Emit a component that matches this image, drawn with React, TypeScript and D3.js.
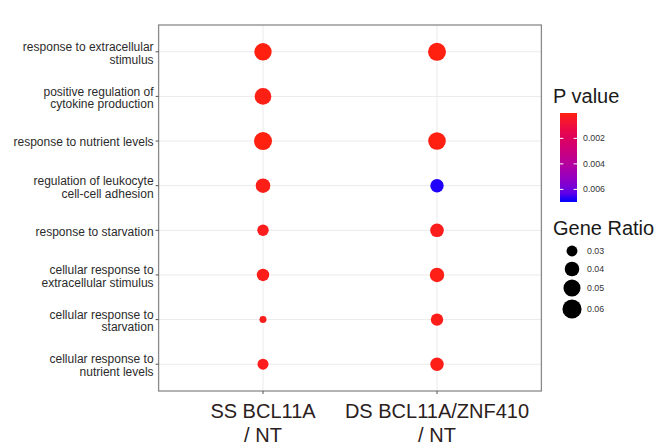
import React from "react";
import * as d3 from "d3";

// GO terms, top to bottom
const terms = [
  "response to extracellular\nstimulus",
  "positive regulation of\ncytokine production",
  "response to nutrient levels",
  "regulation of leukocyte\ncell-cell adhesion",
  "response to starvation",
  "cellular response to\nextracellular stimulus",
  "cellular response to\nstarvation",
  "cellular response to\nnutrient levels",
];
const groups = ["SS BCL11A\n/ NT", "DS BCL11A/ZNF410\n/ NT"];

// gene ratio per group (null = not enriched)
const ratioSS = [0.0512, 0.0482, 0.0544, 0.0401, 0.031, 0.0334, 0.0252, 0.0301];
const ratioDS = [0.0544, null, 0.0525, 0.0362, 0.0368, 0.0394, 0.0334, 0.0362];
const pSS = [0.00001, 0.00008, 0.00001, 0.00012, 0.0002, 0.00015, 0.0002, 0.0002];
const pDS = [0.00001, null, 0.00002, 0.0069, 0.00018, 0.0001, 0.00015, 0.00012];

const pTicks = [0.002, 0.004, 0.006];
const sizeTicks = [0.03, 0.04, 0.05, 0.06];

const W = 656, H = 446;
const panel = { left: 158.6, right: 541.4, top: 25, bottom: 391 };
const font = "'Liberation Sans', Arial, sans-serif";

export default function App() {
  const x = d3.scalePoint<string>().domain(groups).range([panel.left, panel.right]).padding(0.6);
  const y = d3.scalePoint<string>().domain(terms).range([panel.top, panel.bottom]).padding(0.6);
  const pDomain: [number, number] = [0.00001, 0.00699];
  const color = d3.scaleLinear<string>().domain(pDomain).range(["#ff2010", "#0000ff"]).interpolate(d3.interpolateLab);
  const size = (v: number) => 3 + 7 * Math.sqrt(Math.max(0, (v - 0.025) / 0.04));

  const points: { g: string; t: string; r: number; p: number }[] = [];
  terms.forEach((t, i) => {
    if (ratioSS[i] != null) points.push({ g: groups[0], t, r: ratioSS[i] as number, p: pSS[i] as number });
    if (ratioDS[i] != null) points.push({ g: groups[1], t, r: ratioDS[i] as number, p: pDS[i] as number });
  });

  // colour bar
  const bar = { x: 560, y0: 113, y1: 202, w: 17 };
  const barY = d3.scaleLinear().domain(pDomain).range([bar.y0, bar.y1]);
  const stops = d3.range(0, 1.0001, 0.1);

  return (
    <svg width={W} height={H} style={{ position: "absolute", left: 0, top: 0, background: "#fff" }} fontFamily={font}>
      <defs>
        <linearGradient id="pgrad" x1="0" y1="0" x2="0" y2="1">
          {stops.map((s) => (
            <stop key={s} offset={s} stopColor={color(pDomain[0] + s * (pDomain[1] - pDomain[0]))} />
          ))}
        </linearGradient>
      </defs>
      <rect x={panel.left} y={panel.top} width={panel.right - panel.left} height={panel.bottom - panel.top} fill="#fff" />
      {/* grid */}
      {terms.map((t) => (
        <line key={t} x1={panel.left} x2={panel.right} y1={y(t)} y2={y(t)} stroke="#ebebeb" strokeWidth={1} />
      ))}
      {groups.map((g) => (
        <line key={g} x1={x(g)} x2={x(g)} y1={panel.top} y2={panel.bottom} stroke="#ebebeb" strokeWidth={1} />
      ))}
      {/* points */}
      {points.map((d, i) => (
        <circle key={i} cx={x(d.g)} cy={y(d.t)} r={size(d.r)} fill={color(d.p)} />
      ))}
      <rect x={panel.left} y={panel.top} width={panel.right - panel.left} height={panel.bottom - panel.top}
        fill="none" stroke="#8a8a8a" strokeWidth={1.3} />
      {/* y axis */}
      {terms.map((t) => {
        const lines = t.split("\n");
        const yy = (y(t) as number) + 1.2;
        return (
          <g key={t}>
            <line x1={panel.left - 3} x2={panel.left} y1={y(t)} y2={y(t)} stroke="#555" />
            <text x={panel.left - 5} y={yy - (lines.length - 1) * 6.3} textAnchor="end" fontSize={12} fill="#2b2b2b">
              {lines.map((l, j) => (
                <tspan key={j} x={panel.left - 5} dy={j === 0 ? "0.35em" : 12.8}>{l}</tspan>
              ))}
            </text>
          </g>
        );
      })}
      {/* x axis */}
      {groups.map((g) => {
        const xx = x(g) as number;
        return (
          <g key={g}>
            <line x1={xx} x2={xx} y1={panel.bottom} y2={panel.bottom + 3} stroke="#555" />
            <text textAnchor="middle" fontSize={20} fill="#2b2020">
              {g.split("\n").map((l, j) => (
                <tspan key={j} x={xx} y={418 + j * 24}>{l}</tspan>
              ))}
            </text>
          </g>
        );
      })}
      {/* P value legend */}
      <text x={553} y={103} fontSize={20} fill="#1a1a1a">P value</text>
      <rect x={bar.x} y={bar.y0} width={bar.w} height={bar.y1 - bar.y0} fill="url(#pgrad)" />
      {pTicks.map((t) => (
        <g key={t}>
          <line x1={bar.x} x2={bar.x + 3.4} y1={barY(t)} y2={barY(t)} stroke="#fff" strokeWidth={1} />
          <line x1={bar.x + bar.w - 3.4} x2={bar.x + bar.w} y1={barY(t)} y2={barY(t)} stroke="#fff" strokeWidth={1} />
          <text x={583} y={barY(t)} dy="0.35em" fontSize={8.8} fill="#333">{t.toFixed(3)}</text>
        </g>
      ))}
      {/* Gene Ratio legend */}
      <text x={553} y={235} fontSize={20} fill="#1a1a1a">Gene Ratio</text>
      {sizeTicks.map((t, i) => {
        const cy = [251, 269, 288, 309][i];
        return (
          <g key={t}>
            <circle cx={572} cy={cy} r={size(t)} fill="#000" />
            <text x={587} y={cy} dy="0.35em" fontSize={8.8} fill="#333">{t.toFixed(2)}</text>
          </g>
        );
      })}
    </svg>
  );
}
